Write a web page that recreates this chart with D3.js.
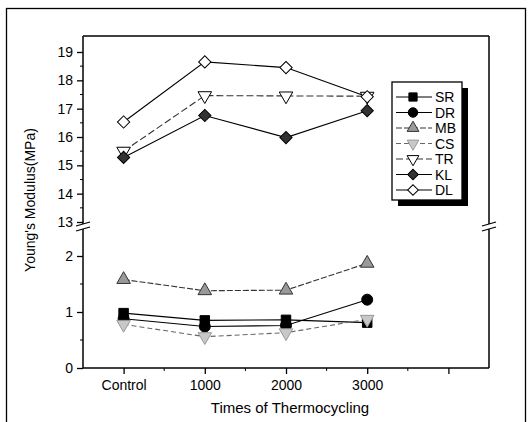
<!DOCTYPE html>
<html>
<head>
<meta charset="utf-8">
<script src="https://cdn.jsdelivr.net/npm/d3@7"></script>
<style>
  body { margin: 0; background: #fff; }
  svg { display: block; font-family: "Liberation Sans", Arial, sans-serif; }
</style>
</head>
<body>
<div id="chart"></div>
<script>
// data
var categories = ["Control", "1000", "2000", "3000"];
var SR = [0.98, 0.85, 0.86, 0.81];
var DR = [0.88, 0.74, 0.76, 1.22];
var MB = [1.58, 1.38, 1.39, 1.87];
var CS = [0.78, 0.56, 0.63, 0.87];
var TR = [15.5, 17.46, 17.45, 17.44];
var KL = [15.28, 16.76, 15.98, 16.93];
var DL = [16.53, 18.65, 18.45, 17.42];
var upperTicks = [13, 14, 15, 16, 17, 18, 19];
var lowerTicks = [0, 1, 2];

var svgWidth = 532, svgHeight = 422;
var svg = d3.select("#chart").append("svg")
  .attr("width", svgWidth)
  .attr("height", svgHeight);

// outer frame
svg.append("rect")
  .attr("x", 6.5).attr("y", 8.5)
  .attr("width", 519).attr("height", 430)
  .attr("fill", "none").attr("stroke", "#000").attr("stroke-width", 1.3);

// plot box
var plotLeft = 83, plotRight = 489, plotTop = 36, plotBottom = 368;
var breakTop = 224, breakBot = 229;

// x scale: 5 slots, last one empty
var x = d3.scaleLinear().domain([-0.5, 4.5]).range([plotLeft, plotRight]);
var yUp = d3.scaleLinear().domain([13, 19]).range([222, 52]);
var yLo = d3.scaleLinear().domain([0, 2]).range([plotBottom, 256]);

var g = svg.append("g");

// axes lines
g.append("line").attr("x1", plotLeft).attr("x2", plotRight).attr("y1", plotTop).attr("y2", plotTop)
  .attr("stroke", "#000").attr("stroke-width", 1.5);
g.append("line").attr("x1", plotLeft).attr("x2", plotRight).attr("y1", plotBottom).attr("y2", plotBottom)
  .attr("stroke", "#000").attr("stroke-width", 1.5);
[plotLeft, plotRight].forEach(function (xx) {
  g.append("line").attr("x1", xx).attr("x2", xx).attr("y1", plotTop).attr("y2", breakTop)
    .attr("stroke", "#000").attr("stroke-width", 1.5);
  g.append("line").attr("x1", xx).attr("x2", xx).attr("y1", breakBot).attr("y2", plotBottom)
    .attr("stroke", "#000").attr("stroke-width", 1.5);
  // break marks
  [breakTop, breakBot].forEach(function (yy) {
    g.append("line").attr("x1", xx - 7).attr("x2", xx + 7)
      .attr("y1", yy + 2).attr("y2", yy - 2)
      .attr("stroke", "#000").attr("stroke-width", 1.3);
  });
});

// upper y axis
var upperAxis = d3.axisLeft(yUp).tickValues(upperTicks).tickFormat(d3.format("d")).tickSize(6).tickPadding(4);
var ua = g.append("g").attr("transform", "translate(" + plotLeft + ",0)").call(upperAxis);
ua.select(".domain").remove();
// lower y axis
var lowerAxis = d3.axisLeft(yLo).tickValues(lowerTicks).tickFormat(d3.format("d")).tickSize(6).tickPadding(4);
var la = g.append("g").attr("transform", "translate(" + plotLeft + ",0)").call(lowerAxis);
la.select(".domain").remove();
[ua, la].forEach(function (a) {
  a.selectAll("text").attr("font-size", 14).attr("font-family", "Liberation Sans, Arial, sans-serif");
  a.selectAll("line").attr("stroke-width", 1.3);
});
// minor y ticks
var upMinor = d3.range(13.5, 19.5, 1);
g.selectAll(".upMinor").data(upMinor).enter().append("line")
  .attr("x1", plotLeft - 3).attr("x2", plotLeft)
  .attr("y1", d => yUp(d)).attr("y2", d => yUp(d))
  .attr("stroke", "#000");
g.selectAll(".loMinor").data([0.5, 1.5]).enter().append("line")
  .attr("x1", plotLeft - 3).attr("x2", plotLeft)
  .attr("y1", d => yLo(d)).attr("y2", d => yLo(d))
  .attr("stroke", "#000");

// x axis
var xAxis = d3.axisBottom(x).tickValues([0, 1, 2, 3, 4])
  .tickFormat(function (d) { return categories[d] || ""; })
  .tickSize(6).tickPadding(6);
var xa = g.append("g").attr("transform", "translate(0," + plotBottom + ")").call(xAxis);
xa.select(".domain").remove();
xa.selectAll("text").attr("font-size", 14).attr("font-family", "Liberation Sans, Arial, sans-serif");
xa.selectAll("line").attr("stroke-width", 1.3);
g.selectAll(".xMinor").data([0.5, 1.5, 2.5, 3.5]).enter().append("line")
  .attr("x1", d => x(d)).attr("x2", d => x(d))
  .attr("y1", plotBottom).attr("y2", plotBottom + 3)
  .attr("stroke", "#000");

// axis titles
svg.append("text")
  .attr("x", 290).attr("y", 413)
  .attr("text-anchor", "middle")
  .attr("font-size", 15)
  .text("Times of Thermocycling");
svg.append("text")
  .attr("transform", "translate(35,200) rotate(-90)")
  .attr("text-anchor", "middle")
  .attr("font-size", 14)
  .text("Young's Modulus(MPa)");

// series
var series = [
  { name: "SR", values: SR, scale: yLo, shape: "square", fill: "#000", stroke: "#000", dash: null, lc: "#000" },
  { name: "DR", values: DR, scale: yLo, shape: "circle", fill: "#000", stroke: "#000", dash: null, lc: "#000" },
  { name: "MB", values: MB, scale: yLo, shape: "triUp", fill: "#9a9a9a", stroke: "#333", dash: "6,2", lc: "#333" },
  { name: "CS", values: CS, scale: yLo, shape: "triDown", fill: "#c8c8c8", stroke: "#999", dash: "5,3", lc: "#666" },
  { name: "TR", values: TR, scale: yUp, shape: "triDown", fill: "#fff", stroke: "#000", dash: "7,3", lc: "#333" },
  { name: "KL", values: KL, scale: yUp, shape: "diamond", fill: "#333", stroke: "#000", dash: null, lc: "#000" },
  { name: "DL", values: DL, scale: yUp, shape: "diamond", fill: "#fff", stroke: "#000", dash: null, lc: "#000" }
];

function symbolFor(shape, size) {
  var s = size || 1;
  if (shape === "square") return d3.symbol().type(d3.symbolSquare).size(90 * s)();
  if (shape === "circle") return d3.symbol().type(d3.symbolCircle).size(95 * s)();
  if (shape === "triUp") return d3.symbol().type(d3.symbolTriangle).size(80 * s)();
  if (shape === "triDown") return d3.symbol().type(d3.symbolTriangle).size(80 * s)();
  // diamond = square turned 45 degrees
  return d3.symbol().type(d3.symbolSquare).size(75 * s)();
}
function rot(shape) {
  if (shape === "triDown") return " rotate(180)";
  if (shape === "diamond") return " rotate(45)";
  return "";
}

var line = d3.line();
series.forEach(function (s) {
  var pts = s.values.map(function (v, i) { return [x(i), s.scale(v)]; });
  g.append("path")
    .attr("d", line(pts))
    .attr("fill", "none")
    .attr("stroke", s.lc)
    .attr("stroke-width", 1.1)
    .attr("stroke-dasharray", s.dash);
});
series.forEach(function (s) {
  g.selectAll(".m-" + s.name).data(s.values).enter().append("path")
    .attr("d", symbolFor(s.shape))
    .attr("transform", function (v, i) {
      return "translate(" + x(i) + "," + s.scale(v) + ")" + rot(s.shape);
    })
    .attr("fill", s.fill)
    .attr("stroke", s.stroke)
    .attr("stroke-width", 1);
});

// legend
var lgX = 392, lgY = 82, lgW = 70, lgH = 118;
svg.append("rect").attr("x", lgX + 6).attr("y", lgY + 6).attr("width", lgW).attr("height", lgH)
  .attr("fill", "#000");
svg.append("rect").attr("x", lgX).attr("y", lgY).attr("width", lgW).attr("height", lgH)
  .attr("fill", "#fff").attr("stroke", "#000").attr("stroke-width", 1.3);
var lg = svg.append("g").attr("transform", "translate(" + lgX + "," + (lgY + 15) + ")");
series.forEach(function (s, i) {
  var yy = i * 15.5;
  lg.append("line").attr("x1", 4).attr("x2", 40).attr("y1", yy).attr("y2", yy)
    .attr("stroke", s.lc).attr("stroke-width", 1.1).attr("stroke-dasharray", s.dash);
  lg.append("path").attr("d", symbolFor(s.shape, 0.75))
    .attr("transform", "translate(21," + yy + ")" + rot(s.shape))
    .attr("fill", s.fill).attr("stroke", s.stroke);
  lg.append("text").attr("x", 43).attr("y", yy + 5)
    .attr("font-size", 14)
    .text(s.name);
});
</script>
</body>
</html>
